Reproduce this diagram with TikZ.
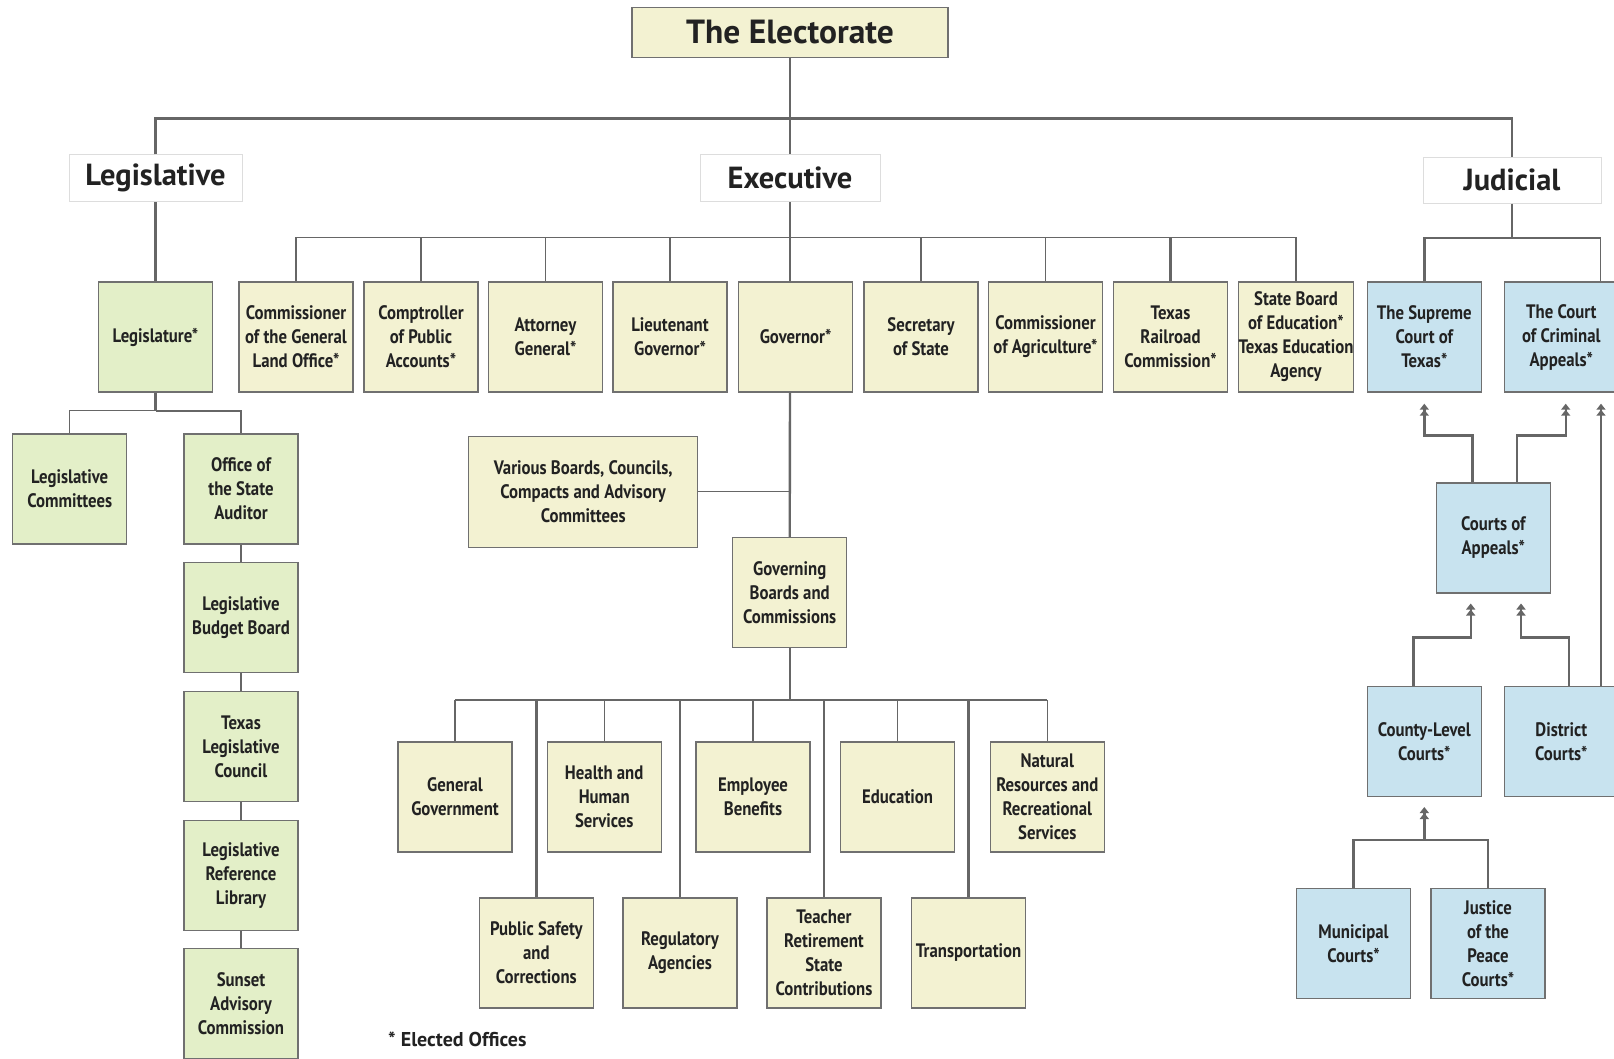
\documentclass[tikz,border=0pt]{standalone}
\usepackage{fontspec}
\setmainfont{PT Sans}
\newfontfamily\condfont[FakeStretch=0.86]{PT Sans}
\usetikzlibrary{arrows.meta}
\definecolor{exefill}{HTML}{F3F2D2}
\definecolor{legfill}{HTML}{E3EFC8}
\definecolor{judfill}{HTML}{C8E3EF}
\definecolor{boxborder}{HTML}{707070}
\definecolor{hdrborder}{HTML}{DDDDDD}
\definecolor{linegray}{HTML}{666666}
\definecolor{txt}{HTML}{222222}
\tikzset{
  box/.style={draw=boxborder, line width=1.4pt, minimum width=114pt, minimum height=110pt,
    inner sep=0pt, align=center, text=txt, font=\condfont\bfseries\fontsize{19.5}{24}\selectfont},
  ebox/.style={box, fill=exefill},
  lbox/.style={box, fill=legfill},
  jbox/.style={box, fill=judfill},
  hdr/.style={draw=hdrborder, line width=1pt, fill=white, inner sep=0pt, text=txt,
    font=\bfseries\fontsize{30.5}{34}\selectfont},
  conn/.style={draw=linegray, line width=2.4pt},
  thinconn/.style={draw=linegray, line width=1.2pt},
  arr/.style={conn, -{Triangle[length=6pt,width=9pt]Triangle[length=6pt,width=9pt]}}
}
\begin{document}
\begin{tikzpicture}[x=1pt,y=-1pt]
\useasboundingbox (0,0) rectangle (1614,1058);
\clip (0,0) rectangle (1614,1058);
\fill[white] (0,0) rectangle (1614,1058);

% headers
\node[hdr, fill=exefill, draw=boxborder, line width=1.4pt, minimum width=316pt, minimum height=50pt,
  font=\bfseries\fontsize{33.5}{36}\selectfont] (elect) at (790,32.3) {The Electorate};
\node[hdr, minimum width=173pt, minimum height=47pt] (legH) at (155.5,178.3) {Legislative};
\node[hdr, minimum width=180pt, minimum height=47pt] (exeH) at (790,178) {Executive};
\node[hdr, minimum width=178pt, minimum height=46pt] (judH) at (1512,180) {Judicial};
\coordinate (split) at (790,118.3);
\draw[conn] (legH.north) |- (split) -| (judH.north);
\draw[conn] (elect.south) -- (exeH.north);

% legislative
\node[lbox] (legis) at (155.5,337) {Legislature*};
\node[lbox] (lcom) at (69.7,488.8) {Legislative\\Committees};
\node[lbox] (aud) at (241,488.8) {Office of\\the State\\Auditor};
\node[lbox] (lbb) at (241,617.7) {Legislative\\Budget Board};
\node[lbox] (tlc) at (241,746.3) {Texas\\Legislative\\Council};
\node[lbox] (lrl) at (241,875.3) {Legislative\\Reference\\Library};
\node[lbox] (sac) at (241,1003.3) {Sunset\\Advisory\\Commission};
\coordinate (lbr) at (155.5,410.7);
\draw[conn] (legH.south) -- (legis.north);
\draw[conn] (legis.south) -- (lbr);
\draw[thinconn] (lcom.north) |- (lbr);
\draw[conn] (lbr) -| (aud.north);
\draw[conn] (aud.south) -- (lbb.north);
\draw[conn] (lbb.south) -- (tlc.north);
\draw[conn] (tlc.south) -- (lrl.north);
\draw[conn] (lrl.south) -- (sac.north);

% executive row
\node[ebox] (glo) at (296,337) {Commissioner\\of the General\\Land Office*};
\node[ebox] (cpa) at (421,337) {Comptroller\\of Public\\Accounts*};
\node[ebox] (ag) at (545.5,337) {Attorney\\General*};
\node[ebox] (ltg) at (670,337) {Lieutenant\\Governor*};
\node[ebox] (gov) at (795.6,337) {Governor*};
\node[ebox] (sos) at (921,337) {Secretary\\of State};
\node[ebox] (agr) at (1045.5,337) {Commissioner\\of Agriculture*};
\node[ebox] (rrc) at (1170.5,337) {Texas\\Railroad\\Commission*};
\node[ebox] (sbe) at (1296,337) {State Board\\of Education*\\Texas Education\\Agency};
\coordinate (ebr) at (790,237.8);
\draw[conn] (exeH.south) -- (exeH.south |- gov.north);
\draw[thinconn] (glo.north) |- (ebr) -| (sbe.north);
\draw[thinconn] (ag.north) -- (ag.north |- ebr);
\draw[thinconn] (sos.north) -- (sos.north |- ebr);
\draw[thinconn] (agr.north) -- (agr.north |- ebr);
\draw[conn] (cpa.north) -- (cpa.north |- ebr);
\draw[conn] (ltg.north) -- (ltg.north |- ebr);
\draw[conn] (rrc.north) -- (rrc.north |- ebr);
\draw[conn] (sbe.north) -- (sbe.north |- ebr);

% executive middle
\node[ebox, minimum width=229pt, minimum height=111pt] (vb) at (583.2,491.7) {Various Boards, Councils,\\Compacts and Advisory\\Committees};
\node[ebox] (gb) at (789.7,592.5) {Governing\\Boards and\\Commissions};
\draw[conn] (exeH.south |- gov.south) -- (gb.north);
\draw[thinconn] (vb.east) -- (vb.east -| gb.north);

% executive bottom
\node[ebox] (gg) at (455,797) {General\\Government};
\node[ebox] (hhs) at (604.2,797) {Health and\\Human\\Services};
\node[ebox] (eb) at (753,797) {Employee\\Benefits};
\node[ebox] (ed) at (897.6,797) {Education};
\node[ebox] (nr) at (1047.3,797) {Natural\\Resources and\\Recreational\\Services};
\node[ebox] (ps) at (536.3,953) {Public Safety\\and\\Corrections};
\node[ebox] (ra) at (680,953) {Regulatory\\Agencies};
\node[ebox] (tr) at (824,953) {Teacher\\Retirement\\State\\Contributions};
\node[ebox] (tp) at (968.6,953) {Transportation};
\coordinate (bbr) at (789.7,700);
\draw[conn] (gb.south) -- (bbr);
\draw[conn] (gg.north |- bbr) -- (nr.north |- bbr);
\draw[thinconn] (gg.north) -- (gg.north |- bbr);
\draw[thinconn] (hhs.north) -- (hhs.north |- bbr);
\draw[thinconn] (eb.north) -- (eb.north |- bbr);
\draw[thinconn] (ed.north) -- (ed.north |- bbr);
\draw[thinconn] (nr.north) -- (nr.north |- bbr);
\draw[conn] (ps.north) -- (ps.north |- bbr);
\draw[thinconn] (ra.north) -- (ra.north |- bbr);
\draw[conn] (tr.north) -- (tr.north |- bbr);
\draw[conn] (tp.north) -- (tp.north |- bbr);

% judicial
\node[jbox] (sc) at (1424.3,337) {The Supreme\\Court of\\Texas*};
\node[jbox] (cca) at (1561.3,337) {The Court\\of Criminal\\Appeals*};
\node[jbox] (coa) at (1493.3,537.8) {Courts of\\Appeals*};
\node[jbox] (cl) at (1424.3,741.3) {County-Level\\Courts*};
\node[jbox] (dc) at (1561.3,741.3) {District\\Courts*};
\node[jbox] (mun) at (1353.5,943.2) {Municipal\\Courts*};
\node[jbox] (jp) at (1488,943.2) {Justice\\of the\\Peace\\Courts*};
\coordinate (jbrR) at (1600.7,237.7);
\draw[thinconn] (judH.south) -- (judH.south |- jbrR);
\draw[conn] (sc.north) |- (jbrR);
\draw[thinconn] (jbrR) -- (jbrR |- cca.north);

\draw[arr] ([xshift=-21pt]coa.north) |- ([yshift=-42.7pt]sc.south) -- ([yshift=-11pt]sc.south);
\draw[arr] ([xshift=23.4pt]coa.north) |- ([xshift=4.4pt,yshift=-42.7pt]cca.south) -- ([xshift=4.4pt,yshift=-11pt]cca.south);
\draw[arr] ([xshift=39.7pt]dc.north) -- ([xshift=39.7pt,yshift=-11pt]cca.south);
\draw[arr] ([xshift=-11pt]cl.north) |- ([xshift=-22.6pt,yshift=-44pt]coa.south) -- ([xshift=-22.6pt,yshift=-10pt]coa.south);
\draw[arr] ([xshift=7.7pt]dc.north) |- ([xshift=27.7pt,yshift=-44pt]coa.south) -- ([xshift=27.7pt,yshift=-10pt]coa.south);
\coordinate (mbr) at (1424.3,840);
\draw[conn] (mun.north) |- (mbr) -| (jp.north);
\draw[arr] (mbr) -- ([yshift=-10pt]cl.south);

% footnote
\node[anchor=west, inner sep=0pt, text=txt, font=\bfseries\fontsize{20}{22}\selectfont] (note) at (388,1039) {* Elected Offices};
\end{tikzpicture}
\end{document}
